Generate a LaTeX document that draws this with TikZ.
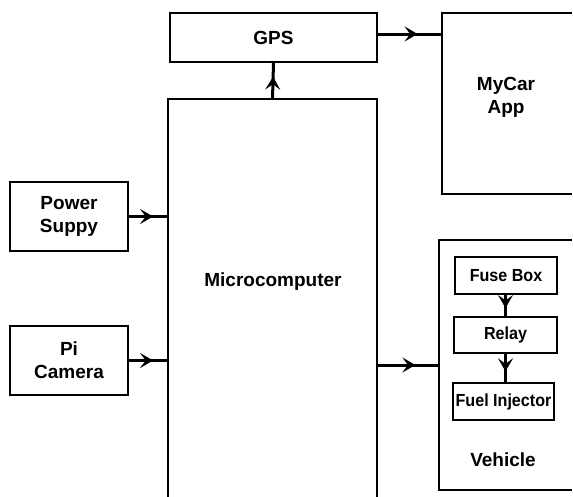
\documentclass[tikz,border=0pt]{standalone}
\usepackage{fontspec}
\setmainfont{Liberation Sans}
\newfontfamily\smallfont[FakeStretch=0.92]{Liberation Sans}
\usetikzlibrary{arrows.meta,decorations.markings}
\begin{document}
\begin{tikzpicture}[x=1pt,y=-1pt,
  box/.style={draw,line width=2.2pt,inner sep=0pt,align=center,
    font=\fontsize{19}{23}\selectfont\bfseries},
  openbox/.style={inner sep=0pt},
  edge/.style={line width=2.2pt,line join=miter},
  smallbox/.style={draw,line width=2.2pt,inner sep=0pt,align=center,
    font=\smallfont\fontsize{17.5}{21}\selectfont\bfseries},
  lbl/.style={inner sep=0pt,align=center,font=\fontsize{19}{23}\selectfont\bfseries},
  conn/.style={line width=3pt,postaction={decorate},
    decoration={markings,mark=at position 0.62 with {\arrow{Stealth[length=13pt,width=15pt,inset=5.5pt]}}}}]
\useasboundingbox (0,0) rectangle (573,496);
\fill[white] (0,0) rectangle (573,496);
\coordinate (rim) at (572,0);
\node[box,minimum width=207pt,minimum height=49pt] (gps) at (273.5,37.5) {GPS};
\node[openbox,minimum width=209pt,minimum height=421pt] (micro) at (272.5,309.5) {};
\node[lbl] (microlbl) at (273,282) {Microcomputer};
\node[openbox,minimum width=158pt,minimum height=181pt] (app) at (521,103.5) {};
\node[lbl] (applbl) at (506,97) {MyCar\\App};
\node[box,minimum width=118pt,minimum height=69pt] (power) at (69,216.5) {Power\\Suppy};
\node[box,minimum width=118pt,minimum height=69pt] (cam) at (69,360.5) {Pi\\Camera};
\node[openbox,minimum width=161pt,minimum height=250pt] (veh) at (519.5,365) {};
\node[lbl] (vehlbl) at (503,460) {Vehicle};
\node[smallbox,minimum width=102pt,minimum height=37pt] (fuse) at (506,275.5) {Fuse Box};
\node[smallbox,minimum width=103pt,minimum height=36pt] (relay) at (505.5,335) {Relay};
\node[smallbox,minimum width=101pt,minimum height=37pt] (fuel) at (503.5,401.5) {Fuel Injector};
\draw[edge] (micro.south west) -- (micro.north west) -- (micro.north east) -- (micro.south east);
\draw[edge] (app.north west -| rim) -- (app.north west) -- (app.south west) -- (app.south west -| rim);
\draw[edge] (veh.north west -| rim) -- (veh.north west) -- (veh.south west) -- (veh.south west -| rim);
\draw[conn] (micro.north) -- (gps.south);
\draw[conn] ([yshift=3.5pt]gps.east) -- ([yshift=3.5pt]gps.east -| app.west);
\draw[conn] (power.east) -- (power.east -| micro.west);
\draw[conn] (cam.east) -- (cam.east -| micro.west);
\draw[conn] (veh.west -| micro.east) -- (veh.west);
\draw[conn] (fuse.south -| relay.north) -- (relay.north);
\draw[conn] (relay.south) -- (relay.south |- fuel.north);
\end{tikzpicture}
\end{document}
